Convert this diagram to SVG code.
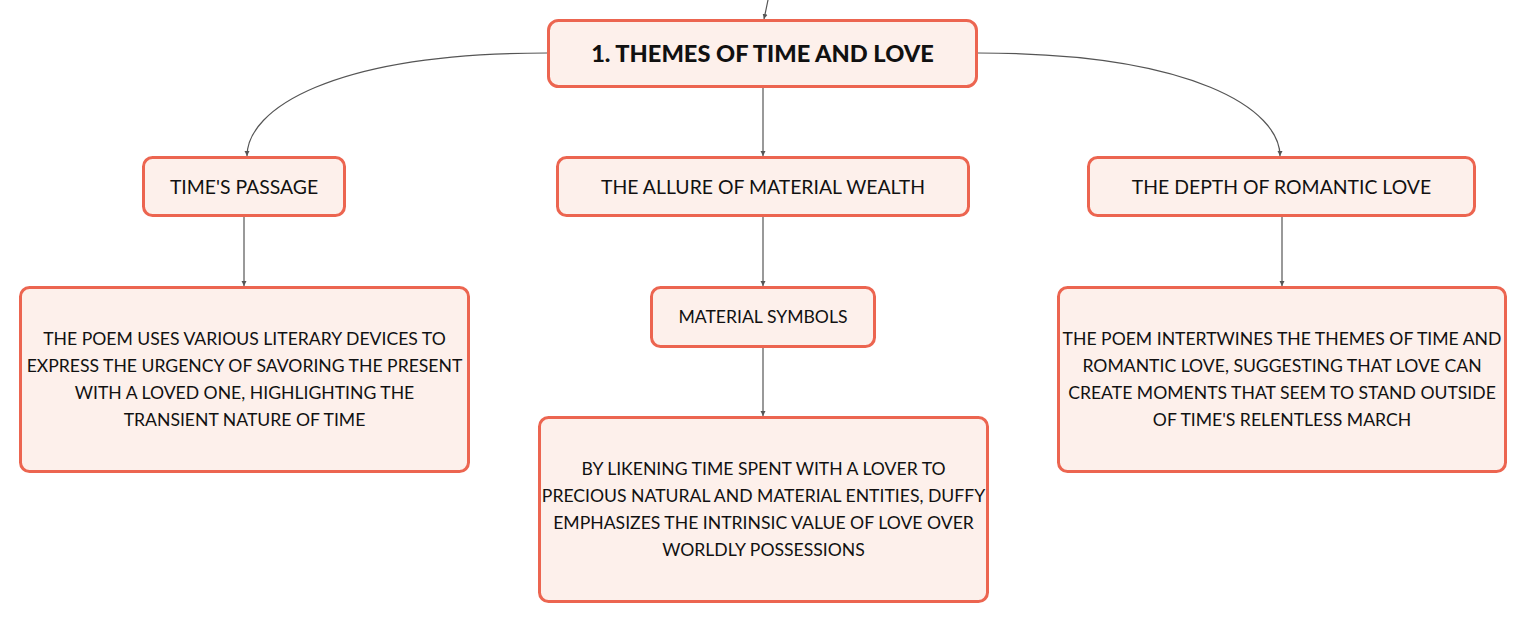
<svg xmlns="http://www.w3.org/2000/svg" width="1527" height="624" viewBox="0 0 1527 624">
<defs>
<style>
.box{fill:#fdf0eb;stroke:#ec6550;stroke-width:3}
.t{font-family:Lato,"Noto Sans",sans-serif;fill:#111;text-anchor:middle}
.root{font-size:23.6px;font-weight:900}
.l1{font-size:19.4px}
.d{font-size:17.6px}
.c{fill:none;stroke:#555;stroke-width:1.2}
</style>
<marker id="ah" markerWidth="6" markerHeight="6" refX="5" refY="3" orient="auto" markerUnits="userSpaceOnUse">
<path d="M0,0.5 L5,3 L0,5.5 z" fill="#555"/>
</marker>
</defs>
<rect width="1527" height="624" fill="#fff"/>
<g id="connectors">
<path class="c" d="M768,0 Q766,10 764,19" marker-end="url(#ah)"/>
<path class="c" d="M547,53 C330,53 247,110 247,156" marker-end="url(#ah)"/>
<path class="c" d="M978,53 C1195,53 1280,110 1280,156" marker-end="url(#ah)"/>
<path class="c" d="M763,88 L763,156" marker-end="url(#ah)"/>
<path class="c" d="M244,217 L244,286" marker-end="url(#ah)"/>
<path class="c" d="M763,217 L763,286" marker-end="url(#ah)"/>
<path class="c" d="M1282,217 L1282,286" marker-end="url(#ah)"/>
<path class="c" d="M763,348 L763,416" marker-end="url(#ah)"/>
</g>
<g id="root">
<rect class="box" x="548.5" y="20.5" width="428" height="66" rx="10"/>
<text class="t root" x="762.5" y="62">1. THEMES OF TIME AND LOVE</text>
</g>
<g id="times-passage">
<rect class="box" x="143.5" y="157.5" width="201" height="58" rx="9"/>
<text class="t l1" x="244" y="193.5">TIME'S PASSAGE</text>
</g>
<g id="material-wealth">
<rect class="box" x="557.5" y="157.5" width="411" height="58" rx="9"/>
<text class="t l1" x="763" y="193.5">THE ALLURE OF MATERIAL WEALTH</text>
</g>
<g id="romantic-love">
<rect class="box" x="1088.5" y="157.5" width="386" height="58" rx="9"/>
<text class="t l1" x="1281.5" y="193.5">THE DEPTH OF ROMANTIC LOVE</text>
</g>
<g id="times-passage-detail">
<rect class="box" x="20.5" y="287.5" width="448" height="184" rx="9"/>
<text class="t d" x="244.5" y="344.5">THE POEM USES VARIOUS LITERARY DEVICES TO</text>
<text class="t d" x="244.5" y="371.5">EXPRESS THE URGENCY OF SAVORING THE PRESENT</text>
<text class="t d" x="244.5" y="398.5">WITH A LOVED ONE, HIGHLIGHTING THE</text>
<text class="t d" x="244.5" y="425.5">TRANSIENT NATURE OF TIME</text>
</g>
<g id="material-symbols">
<rect class="box" x="651.5" y="287.5" width="223" height="59" rx="9"/>
<text class="t d" x="763" y="323">MATERIAL SYMBOLS</text>
</g>
<g id="material-detail">
<rect class="box" x="539.5" y="417.5" width="448" height="184" rx="9"/>
<text class="t d" x="763.5" y="474.5">BY LIKENING TIME SPENT WITH A LOVER TO</text>
<text class="t d" x="763.5" y="501.5">PRECIOUS NATURAL AND MATERIAL ENTITIES, DUFFY</text>
<text class="t d" x="763.5" y="528.5">EMPHASIZES THE INTRINSIC VALUE OF LOVE OVER</text>
<text class="t d" x="763.5" y="555.5">WORLDLY POSSESSIONS</text>
</g>
<g id="romantic-detail">
<rect class="box" x="1058.5" y="287.5" width="447" height="184" rx="9"/>
<text class="t d" x="1282" y="344.5">THE POEM INTERTWINES THE THEMES OF TIME AND</text>
<text class="t d" x="1282" y="371.5">ROMANTIC LOVE, SUGGESTING THAT LOVE CAN</text>
<text class="t d" x="1282" y="398.5">CREATE MOMENTS THAT SEEM TO STAND OUTSIDE</text>
<text class="t d" x="1282" y="425.5">OF TIME'S RELENTLESS MARCH</text>
</g>
</svg>
